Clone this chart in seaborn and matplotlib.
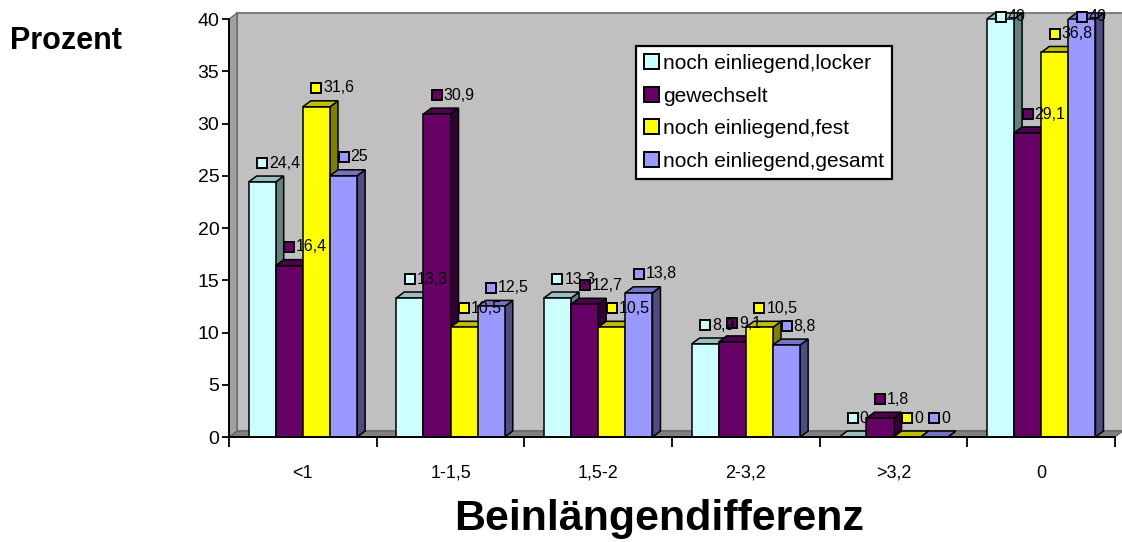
import matplotlib
matplotlib.use("Agg")
import matplotlib.pyplot as plt
from matplotlib.patches import Polygon, Patch
import seaborn as sns
import pandas as pd

# categories and series
groups = ["<1", "1-1,5", "1,5-2", "2-3,2", ">3,2", "0"]
series = ["noch einliegend,locker", "gewechselt", "noch einliegend,fest", "noch einliegend,gesamt"]
locker = [24.4, 13.3, 13.3, 8.9, 0, 40]
gewechselt = [16.4, 30.9, 12.7, 9.1, 1.8, 29.1]
fest = [31.6, 10.5, 10.5, 10.5, 0, 36.8]
gesamt = [25, 12.5, 13.8, 8.8, 0, 40]
yticks = [0, 5, 10, 15, 20, 25, 30, 35, 40]

front_cols = ["#CCFFFF", "#660066", "#FFFF00", "#9999FF"]
top_cols = ["#99BFBF", "#4C004C", "#BFBF00", "#7373BF"]
side_cols = ["#668080", "#330033", "#808000", "#4D4D80"]

rows = []
for name, vals in zip(series, [locker, gewechselt, fest, gesamt]):
    for g, v in zip(groups, vals):
        rows.append({"Gruppe": g, "Serie": name, "Wert": v})
df = pd.DataFrame(rows)

sns.set_style("white")
plt.rcParams["font.family"] = ["Liberation Sans", "DejaVu Sans"]
plt.rcParams["text.color"] = "black"
plt.rcParams["xtick.color"] = "black"
plt.rcParams["ytick.color"] = "black"
plt.rcParams["axes.labelcolor"] = "black"

fig = plt.figure(figsize=(11.22, 5.42), dpi=100)
ax = fig.add_axes([0.2041, 0.1937, 0.7897, 0.7712])
ax.set_facecolor("none")

sns.barplot(data=df, x="Gruppe", y="Wert", hue="Serie", order=groups, hue_order=series,
            palette=front_cols, saturation=1, width=0.735, edgecolor="black",
            linewidth=1.1, legend=False, ax=ax, zorder=3)

ax.set_xlim(-0.5, 5.5)
ax.set_ylim(0, 40)
fig.canvas.draw()

# depth of the 3d effect, 8 px right and 6 px up, in data units
p0 = ax.transData.transform((0, 0))
p1 = ax.transData.transform((1, 1))
dx = 8 / (p1[0] - p0[0])
dy = 6 / (p1[1] - p0[1])

# back wall, floor and left wall
x0, x1 = -0.5, 5.5
ax.add_patch(Polygon([(x0 + dx, dy), (x1 + dx, dy), (x1 + dx, 40 + dy), (x0 + dx, 40 + dy)],
                     closed=True, facecolor="#C0C0C0", edgecolor="#808080", lw=1.5,
                     zorder=0, clip_on=False))
ax.add_patch(Polygon([(x0, 0), (x1, 0), (x1 + dx, dy), (x0 + dx, dy)],
                     closed=True, facecolor="#808080", edgecolor="#606060", lw=0.8,
                     zorder=0.5, clip_on=False))
ax.add_patch(Polygon([(x0, 0), (x0 + dx, dy), (x0 + dx, 40 + dy), (x0, 40)],
                     closed=True, facecolor="#A0A0A0", edgecolor="#606060", lw=0.8,
                     zorder=0.5, clip_on=False))

for k, cont in enumerate(ax.containers):
    for bar in cont:
        bx = bar.get_x()
        bw = bar.get_width()
        h = bar.get_height()
        bar.set_zorder(2.05 + 0.1 * k)
        top = [(bx, h), (bx + bw, h), (bx + bw + dx, h + dy), (bx + dx, h + dy)]
        side = [(bx + bw, 0), (bx + bw + dx, dy), (bx + bw + dx, h + dy), (bx + bw, h)]
        ax.add_patch(Polygon(side, closed=True, facecolor=side_cols[k], edgecolor="black",
                             lw=1.1, zorder=2 + 0.1 * k, clip_on=False))
        ax.add_patch(Polygon(top, closed=True, facecolor=top_cols[k], edgecolor="black",
                             lw=1.1, zorder=2 + 0.1 * k, clip_on=False))
        # data label with small legend key
        ly = min(h + 1.8, 40.2)
        cx = bx + bw / 2
        ax.plot(cx, ly, marker="s", markersize=7.5, markerfacecolor=front_cols[k],
                markeredgecolor="black", markeredgewidth=1.4, zorder=6, clip_on=False)
        ax.annotate(f"{h:g}".replace(".", ","), (cx, ly), xytext=(5, 0),
                    textcoords="offset points", ha="left", va="center",
                    fontsize=11.5, zorder=7, annotation_clip=False)

# axes and ticks
sns.despine(ax=ax, top=True, right=True)
ax.spines["left"].set_linewidth(1.4)
ax.spines["bottom"].set_linewidth(1.4)
ax.spines["left"].set_color("black")
ax.spines["bottom"].set_color("black")
ax.spines["left"].set_zorder(5)
ax.spines["bottom"].set_zorder(5)
ax.set_yticks(yticks)
ax.set_yticklabels([str(t) for t in yticks])
ax.tick_params(axis="y", direction="out", length=5, width=1.3, labelsize=14, pad=2, left=True)
ax.set_xticks(range(len(groups)))
ax.set_xticklabels(groups)
ax.tick_params(axis="x", length=0, labelsize=13, pad=20)
ax.set_xticks([i + 0.5 for i in range(-1, len(groups))], minor=True)
ax.tick_params(axis="x", which="minor", direction="out", length=7, width=1.3, bottom=True)
ax.set_xlabel("")
ax.set_ylabel("")

handles = [Patch(facecolor=c, edgecolor="black", lw=1.4) for c in front_cols]
leg = ax.legend(handles, series, loc="upper left", bbox_to_anchor=(0.567, 0.915),
                bbox_transform=fig.transFigure, frameon=True, fancybox=False,
                framealpha=1, facecolor="white",
                fontsize=15, handlelength=0.7, handleheight=0.7, handletextpad=0.2,
                labelspacing=0.65, borderpad=0.38, borderaxespad=0)
leg.get_frame().set_edgecolor("black")
leg.get_frame().set_linewidth(1.6)
leg.set_zorder(10)

fig.text(10 / 1122, 1 - 41 / 542, "Prozent", fontsize=22, fontweight="bold",
         ha="left", va="center")
fig.text(0.587, 0.022, "Beinlängendifferenz", fontsize=31, fontweight="bold",
         ha="center", va="baseline")

fig.savefig("out.png", dpi=100)
